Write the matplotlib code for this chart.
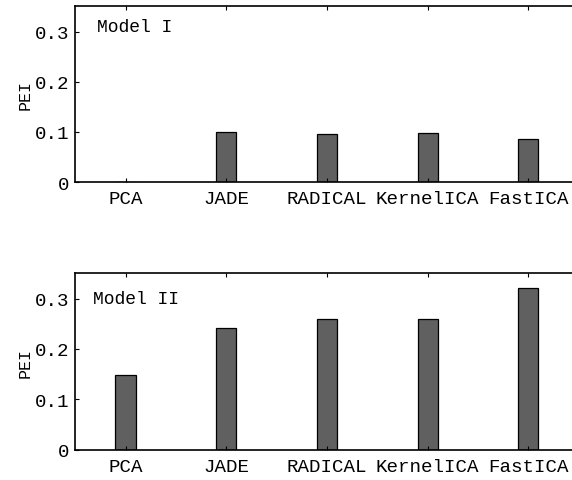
import numpy as np
import matplotlib.pyplot as plt

methods = ['PCA', 'JADE', 'RADICAL', 'KernelICA', 'FastICA']
pei_model1 = [0.0, 0.100, 0.095, 0.097, 0.085]
pei_model2 = [0.148, 0.241, 0.259, 0.259, 0.321]
yticks = [0, 0.1, 0.2, 0.3]
ytick_labels = ['0', '0.1', '0.2', '0.3']

plt.rcParams['font.family'] = ['Liberation Mono', 'DejaVu Sans Mono']

fig = plt.figure(figsize=(5.72, 4.81), dpi=100)
ax1 = fig.add_axes([0.1315, 0.6195, 0.88, 0.365])
ax2 = fig.add_axes([0.1315, 0.063, 0.88, 0.3667])

x = np.arange(len(methods))
for ax, vals, name, tx in [(ax1, pei_model1, 'Model I', -0.28),
                           (ax2, pei_model2, 'Model II', -0.325)]:
    ax.bar(x, vals, width=0.2, color='#606060', edgecolor='black', linewidth=0.9)
    ax.set_xlim(-0.5, 4.5)
    ax.set_ylim(0, 0.35)
    ax.set_xticks(x)
    ax.set_xticklabels(methods, fontsize=13.8)
    ax.set_yticks(yticks)
    ax.set_yticklabels(ytick_labels, fontsize=13.8)
    ax.tick_params(direction='in', length=3, width=0.8, top=True, right=False, pad=4)
    ax.tick_params(axis='x', pad=6)
    for s in ax.spines.values():
        s.set_linewidth(1.2)
    ax.spines['right'].set_visible(False)
    ax.set_ylabel('PEI', fontsize=12, labelpad=2)
    ax.text(tx, 0.31 if name == 'Model I' else 0.30, name, fontsize=13, va='center', ha='left')

fig.savefig('out.png', dpi=100)
